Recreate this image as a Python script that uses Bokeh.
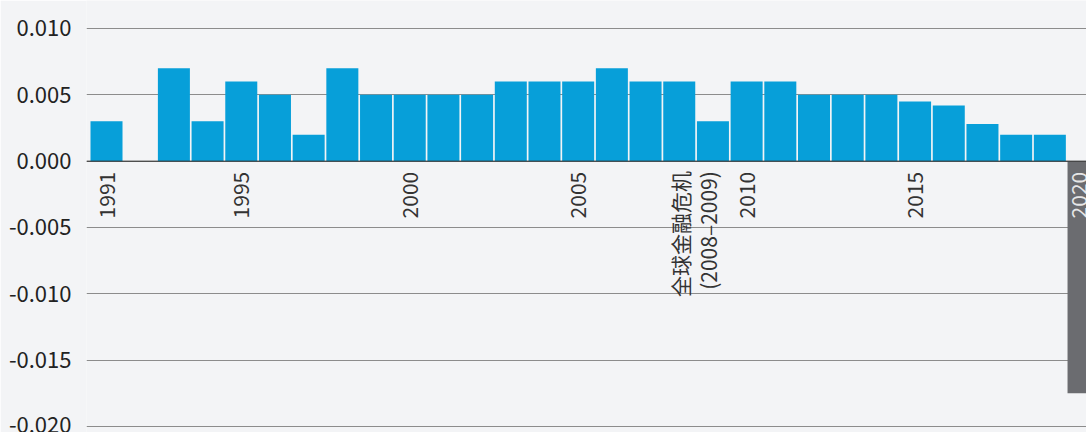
import math
from bokeh.plotting import figure
from bokeh.models import ColumnDataSource, FixedTicker, Span
from bokeh.core.properties import value
from bokeh.embed import file_html
from bokeh.resources import INLINE

years = list(range(1991, 2021))
values = [0.003, 0.0, 0.007, 0.003, 0.006, 0.005, 0.002, 0.007, 0.005, 0.005,
          0.005, 0.005, 0.006, 0.006, 0.006, 0.007, 0.006, 0.006, 0.003, 0.006,
          0.006, 0.005, 0.005, 0.005, 0.0045, 0.0042, 0.0028, 0.002, 0.002, -0.0175]
bar_colors = ["#079fd9"] * 29 + ["#6b6c70"]

label_years = [1991, 1995, 2000, 2005, 2010, 2015]
label_texts = [str(y) for y in label_years]
highlight_year = [2020]
highlight_text = ["2020"]

crisis_x = [2008.5]
crisis_text = ["全球金融危机\n(2008–2009)"]

yticks = [-0.020, -0.015, -0.010, -0.005, 0.000, 0.005, 0.010]
ytick_labels = ["-0.020", "-0.015", "-0.010", "-0.005", "0.000", "0.005", "0.010"]

FONT = "Noto Sans CJK SC"
BG = "#f3f4f6"

p = figure(width=1086, height=432, output_backend="svg", toolbar_location=None,
           x_range=(1990.406, 2020.088), y_range=(-0.020452, 0.01211),
           min_border_left=86, min_border_right=0, min_border_top=0, min_border_bottom=0,
           background_fill_color=BG, border_fill_color=BG, outline_line_color=None)

src = ColumnDataSource(dict(x=years, top=values, color=bar_colors))
p.vbar(x="x", top="top", bottom=0, width=0.95, color="color", line_color=None, source=src)

p.add_layout(Span(location=0, dimension="width", line_color="#333333", line_alpha=0.7, line_width=1.5))

lab_y = -0.0008
p.text(x=label_years, y=[lab_y] * len(label_years), text=label_texts, angle=math.pi / 2,
       text_align="right", text_baseline="middle", text_font=value(FONT),
       text_font_size="21px", text_color="#333333")
p.text(x=highlight_year, y=[lab_y], text=highlight_text, angle=math.pi / 2,
       text_align="right", text_baseline="middle", text_font=value(FONT),
       text_font_size="21px", text_color="#e6e6e6", x_offset=-5)
p.text(x=crisis_x, y=[-0.00075], text=crisis_text, angle=math.pi / 2,
       text_align="right", text_baseline="middle", text_font=value(FONT),
       text_font_size="21px", text_color="#333333", text_line_height=0.95, x_offset=-2)

p.xaxis.visible = False
p.xgrid.visible = False
p.ygrid.grid_line_color = "#8c8c8c"
p.ygrid.grid_line_width = 1
p.yaxis.ticker = FixedTicker(ticks=yticks)
p.yaxis.major_label_overrides = {t: l for t, l in zip(yticks, ytick_labels)}
p.yaxis.axis_line_color = None
p.yaxis.major_tick_line_color = None
p.yaxis.minor_tick_line_color = None
p.yaxis.major_label_text_font = FONT
p.yaxis.major_label_text_font_size = "22px"
p.yaxis.major_label_text_color = "#222222"
p.yaxis.major_label_standoff = 9

open("out.html", "w").write(file_html(p, INLINE))
